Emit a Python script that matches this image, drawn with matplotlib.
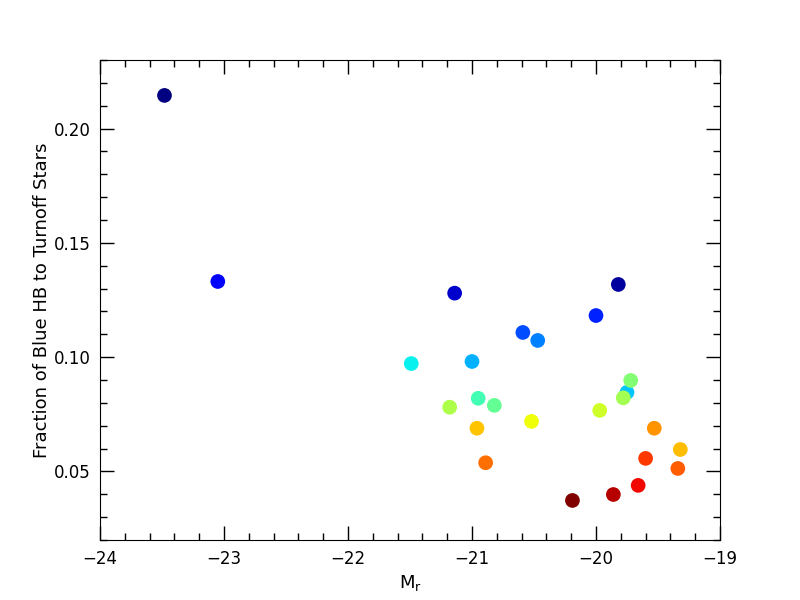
import numpy as np
import matplotlib
matplotlib.use('Agg')
import matplotlib.pyplot as plt

# absolute magnitude, blue HB / turnoff fraction, colour value (jet)
mag = [-23.48, -23.05, -21.14, -21.49, -21.00, -20.59, -20.47, -20.00, -19.82,
       -19.75, -19.72, -19.78, -21.18, -20.95, -20.82, -20.96, -20.52, -19.97,
       -20.89, -19.53, -19.32, -19.60, -19.34, -20.19, -19.86, -19.66]
frac = [0.2145, 0.1331, 0.1280, 0.0972, 0.0981, 0.1108, 0.1073, 0.1182, 0.1318,
        0.0846, 0.0898, 0.0822, 0.0781, 0.0820, 0.0789, 0.0689, 0.0719, 0.0767,
        0.0538, 0.0689, 0.0596, 0.0557, 0.0513, 0.0373, 0.0399, 0.0439]
cval = [0.00, 0.11, 0.07, 0.36, 0.30, 0.20, 0.25, 0.16, 0.03,
        0.32, 0.51, 0.55, 0.56, 0.43, 0.47, 0.70, 0.64, 0.60,
        0.79, 0.75, 0.71, 0.85, 0.81, 1.00, 0.95, 0.90]

fig = plt.figure(figsize=(8, 6), dpi=100)
ax = fig.add_axes([0.125, 0.1, 0.775, 0.8])
ax.scatter(mag, frac, c=cval, cmap='jet', vmin=0, vmax=1, s=112, linewidths=0, zorder=3)

ax.set_xlim(-24, -19)
ax.set_ylim(0.02, 0.23)
ax.set_xticks(np.arange(-24, -18.9, 1))
ax.set_yticks([0.05, 0.10, 0.15, 0.20])
ax.set_xticks(np.arange(-24, -18.99, 0.2), minor=True)
ax.set_yticks(np.arange(0.02, 0.231, 0.01), minor=True)
ax.set_yticklabels(['0.05', '0.10', '0.15', '0.20'])
ax.tick_params(which='both', direction='in', top=True, right=True, labelsize=12)
ax.tick_params(which='major', length=10, width=1, pad=7)
ax.tick_params(which='minor', length=5, width=1)
ax.set_xlabel('M$_\\mathregular{r}$', fontsize=13)
ax.set_ylabel('Fraction of Blue HB to Turnoff Stars', fontsize=13, labelpad=2)

fig.savefig('out.png', dpi=100)
